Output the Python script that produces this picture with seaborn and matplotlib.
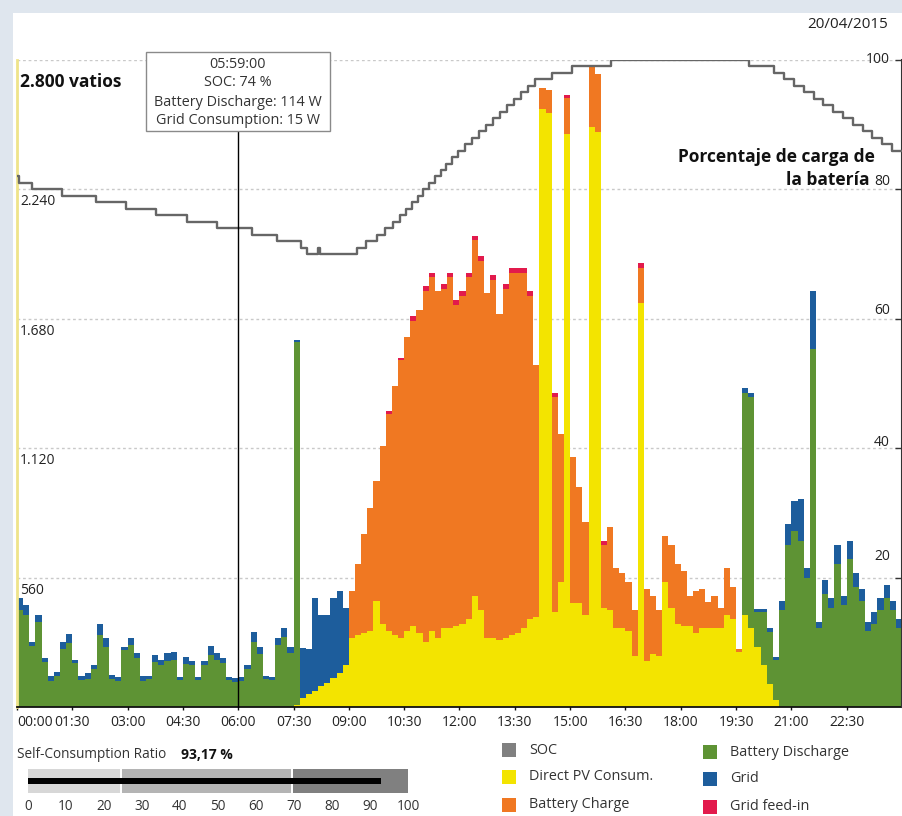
import numpy as np
import pandas as pd
import seaborn as sns
import matplotlib
matplotlib.use("Agg")
import matplotlib.pyplot as plt
import matplotlib.transforms as mtransforms
from matplotlib.patches import Rectangle

# ---- data: one value per 10-minute slot (00:00 ... 23:50), in W ----
direct_pv = [
    0, 0, 0, 0, 0, 0,            # 00h
    0, 0, 0, 0, 0, 0,            # 01h
    0, 0, 0, 0, 0, 0,            # 02h
    0, 0, 0, 0, 0, 0,            # 03h
    0, 0, 0, 0, 0, 0,            # 04h
    0, 0, 0, 0, 0, 0,            # 05h
    0, 0, 0, 0, 0, 0,            # 06h
    0, 0, 0, 10, 40, 55,         # 07h
    70, 90, 105, 125, 145, 180,  # 08h
    300, 310, 320, 330, 460, 360,
    330, 310, 300, 330, 350, 320,
    280, 330, 300, 340, 340, 350,
    360, 380, 480, 420, 300, 300,
    290, 300, 310, 320, 340, 380,
    390, 2590, 2570, 410, 540, 2480,
    450, 450, 400, 2510, 2490, 430,
    420, 340, 340, 330, 220, 1750,
    200, 230, 220, 540, 430, 360,
    350, 350, 320, 340, 340, 340,
    340, 400, 380, 240, 400, 340,  # 19h
    260, 180, 100, 30, 0, 0,       # 20h
    0, 0, 0, 0, 0, 0,
    0, 0, 0, 0, 0, 0,
    0, 0, 0, 0, 0, 0,
]

battery_charge = [
    0, 0, 0, 0, 0, 0,
    0, 0, 0, 0, 0, 0,
    0, 0, 0, 0, 0, 0,
    0, 0, 0, 0, 0, 0,
    0, 0, 0, 0, 0, 0,
    0, 0, 0, 0, 0, 0,
    0, 0, 0, 0, 0, 0,
    0, 0, 0, 0, 0, 0,
    0, 0, 0, 0, 0, 0,
    200, 310, 430, 530, 520, 770,        # 09h
    940, 1080, 1200, 1270, 1320, 1400,
    1520, 1530, 1500, 1470, 1520, 1390,
    1420, 1480, 1540, 1510, 1490, 1550,
    1410, 1510, 1570, 1560, 1540, 1400,
    1090, 90, 100, 930, 640, 155,
    630, 500, 400, 270, 250, 270,
    360, 260, 240, 210, 200, 150,
    310, 250, 200, 200, 270, 260,
    240, 130, 180, 170, 115, 140,
    90, 200, 140, 10, 0, 0,              # 19h
    0, 0, 0, 0, 0, 0,
    0, 0, 0, 0, 0, 0,
    0, 0, 0, 0, 0, 0,
    0, 0, 0, 0, 0, 0,
]

grid_feed_in = [
    0, 0, 0, 0, 0, 0,
    0, 0, 0, 0, 0, 0,
    0, 0, 0, 0, 0, 0,
    0, 0, 0, 0, 0, 0,
    0, 0, 0, 0, 0, 0,
    0, 0, 0, 0, 0, 0,
    0, 0, 0, 0, 0, 0,
    0, 0, 0, 0, 0, 0,
    0, 0, 0, 0, 0, 0,
    0, 0, 0, 0, 0, 0,
    10, 0, 10, 0, 20, 0,     # 10h
    20, 20, 0, 20, 20, 20,
    20, 20, 20, 20, 0, 20,
    0, 20, 20, 20, 20, 20,
    0, 0, 0, 20, 0, 15,
    0, 0, 0, 0, 0, 20,
    0, 0, 0, 0, 0, 20,
    0, 0, 0, 0, 0, 0,
    0, 0, 0, 0, 0, 0,
    0, 0, 0, 0, 0, 0,
    0, 0, 0, 0, 0, 0,
    0, 0, 0, 0, 0, 0,
    0, 0, 0, 0, 0, 0,
    0, 0, 0, 0, 0, 0,
]

battery_discharge = [
    420, 400, 265, 370, 195, 112,
    135, 250, 275, 190, 117, 120,
    165, 310, 260, 120, 113, 245,
    270, 210, 112, 120, 195, 180,
    200, 205, 115, 185, 180, 115,
    180, 225, 205, 190, 115, 110,
    114, 165, 280, 230, 120, 115,
    270, 305, 235, 1570, 0, 0,
    0, 0, 0, 0, 0, 0,
    0, 0, 0, 0, 0, 0,
    0, 0, 0, 0, 0, 0,
    0, 0, 0, 0, 0, 0,
    0, 0, 0, 0, 0, 0,
    0, 0, 0, 0, 0, 0,
    0, 0, 0, 0, 0, 0,
    0, 0, 0, 0, 0, 0,
    0, 0, 0, 0, 0, 0,
    0, 0, 0, 0, 0, 0,
    0, 0, 0, 0, 0, 0,
    0, 0, 0, 0, 960, 1000,
    150, 230, 225, 175, 420, 700,
    760, 720, 560, 1550, 340, 490,
    430, 620, 440, 640, 520, 460,
    330, 360, 420, 470, 420, 340,
]

grid = [
    50, 40, 15, 30, 15, 20,
    15, 30, 40, 15, 15, 25,
    15, 50, 40, 20, 15, 15,
    30, 25, 20, 15, 30, 25,
    35, 35, 15, 30, 20, 15,
    20, 40, 30, 20, 15, 15,
    15, 15, 45, 30, 15, 15,
    30, 35, 25, 10, 215, 195,
    400, 310, 295, 345, 355, 250,
    0, 0, 0, 0, 0, 0,
    0, 0, 0, 0, 0, 0,
    0, 0, 0, 0, 0, 0,
    0, 0, 0, 0, 0, 0,
    0, 0, 0, 0, 0, 0,
    0, 0, 0, 0, 0, 0,
    0, 0, 0, 0, 0, 0,
    0, 0, 0, 0, 0, 0,
    0, 0, 0, 0, 0, 0,
    0, 0, 0, 0, 0, 0,
    0, 0, 0, 0, 20, 20,
    15, 15, 15, 10, 40, 90,
    130, 180, 40, 250, 30, 60,
    40, 80, 40, 80, 60, 50,
    40, 50, 50, 60, 40, 40,
]

# battery state of charge (%), value holds from each time on
soc_hours = [0, 0.05, 0.40, 1.22, 2.15, 2.96, 3.76, 4.60, 5.43, 6.38,
             7.06, 7.69, 7.87, 8.17, 8.22, 9.23, 9.47, 9.75, 9.99, 10.20,
             10.40, 10.56, 10.71, 10.87, 11.02, 11.18, 11.33, 11.49, 11.64, 11.80,
             11.95, 12.14, 12.33, 12.52, 12.71, 12.90, 13.09, 13.28, 13.47, 13.66,
             13.85, 14.05, 14.52, 15.05, 16.10, 19.84, 20.54, 20.81, 21.08, 21.34,
             21.61, 21.87, 22.14, 22.40, 22.66, 22.93, 23.20, 23.47, 23.74, 24.0]
soc_values = [82, 81, 80, 79, 78, 77, 76, 75, 74, 73,
              72, 71, 70, 71, 70, 71, 72, 73, 74, 75,
              76, 77, 78, 79, 80, 81, 82, 83, 84, 85,
              86, 87, 88, 89, 90, 91, 92, 93, 94, 95,
              96, 97, 98, 99, 100, 99, 98, 97, 96, 95,
              94, 93, 92, 91, 90, 89, 88, 87, 86, 86]

tick_hours = [0, 1.5, 3, 4.5, 6, 7.5, 9, 10.5, 12, 13.5, 15, 16.5, 18, 19.5, 21, 22.5]
tick_labels = ["00:00", "01:30", "03:00", "04:30", "06:00", "07:30", "09:00", "10:30",
               "12:00", "13:30", "15:00", "16:30", "18:00", "19:30", "21:00", "22:30"]
watt_ticks = [560, 1120, 1680, 2240]
watt_labels = ["560", "1.120", "1.680", "2.240"]
soc_ticks = [100, 80, 60, 40, 20]

cursor_hour = 5.983
tooltip_lines = ["05:59:00", "SOC: 74 %", "Battery Discharge: 114 W", "Grid Consumption: 15 W"]

self_consumption = 93.17
gauge_bands = [(-0.3, 24.1), (24.8, 69.2), (69.8, 100.3)]

colors = {
    "Direct PV Consum.": "#f3e400",
    "Battery Discharge": "#5e9334",
    "Grid": "#1d5d9c",
    "Battery Charge": "#f07822",
    "Grid feed-in": "#e21a4c",
    "SOC": "#808080",
}

# ---- figure geometry in pixels ----
W, H = 903, 816


def fx(px):
    return px / W


def fy(py):
    return 1 - py / H


sns.set_theme(style="white")
plt.rcParams["font.family"] = ["Open Sans", "DejaVu Sans"]
TXT = "#222222"

fig = plt.figure(figsize=(W / 100, H / 100), dpi=100)
fig.patch.set_facecolor("#dfe6ee")
fig.patches.append(Rectangle((fx(13), 0), 1 - fx(13), fy(13), transform=fig.transFigure,
                             fc="white", ec="none", zorder=-10))

X0, X1, Y0, Y1 = 17, 902, 707, 60
ax = fig.add_axes([fx(X0), fy(Y0), fx(X1) - fx(X0), fy(Y1) - fy(Y0)])
ax.patch.set_alpha(0)

# stacked energy flows
slots = pd.DataFrame({
    "Direct PV Consum.": direct_pv,
    "Battery Discharge": battery_discharge,
    "Grid": grid,
    "Battery Charge": battery_charge,
    "Grid feed-in": grid_feed_in,
}, dtype=float)
slots.index = np.arange(len(slots)) / 6
tops = slots.cumsum(axis=1)
tops.loc[24.0] = tops.iloc[-1]
for name in reversed(list(tops.columns)):
    ax.fill_between(tops.index, 0, tops[name], step="post", color=colors[name],
                    lw=0, zorder=2)

ax.set_xlim(0, 24)
ax.set_ylim(0, 2800)
for v in watt_ticks + [2800]:
    ax.axhline(v, color="#c9c9c9", lw=1, ls=(0, (2, 2)), zorder=1)

ax.set_xticks(tick_hours)
ax.set_xticklabels(tick_labels, fontsize=10, color=TXT)
ax.get_xticklabels()[0].set_ha("left")
ax.tick_params(axis="x", bottom=True, length=4, width=1, direction="inout",
               color="#111111", pad=4)
ax.set_yticks([])
ax.spines["top"].set_visible(False)
ax.spines["right"].set_visible(False)
ax.spines["left"].set_color("#efe48a")
ax.spines["left"].set_linewidth(2)
ax.spines["bottom"].set_color("#111111")
ax.spines["bottom"].set_linewidth(1.3)

wtrans = mtransforms.blended_transform_factory(ax.transAxes, ax.transData)
for v, s in zip(watt_ticks, watt_labels):
    ax.annotate(s, xy=(0, v), xycoords=wtrans, xytext=(3, -5), textcoords="offset pixels",
                ha="left", va="top", fontsize=10, color=TXT)
ax.annotate("2.800 vatios", xy=(0, 2800), xycoords=wtrans, xytext=(3, -22),
            textcoords="offset pixels", ha="left", va="center", fontsize=12.5,
            fontweight="bold", color="#111111")

# state of charge on the right axis
ax2 = ax.twinx()
sns.lineplot(x=soc_hours, y=soc_values, ax=ax2, color="#666666", lw=1.7,
             drawstyle="steps-post", zorder=5)
ax2.set_xlim(0, 24)
ax2.set_ylim(0, 100)
ax2.set_ylabel("")
ax2.set_yticks(soc_ticks)
ax2.set_yticklabels([])
ax2.tick_params(axis="y", right=True, direction="in", length=5, width=1, color="#333333")
for side in ["top", "left", "bottom"]:
    ax2.spines[side].set_visible(False)
ax2.spines["right"].set_color("#333333")
ax2.spines["right"].set_linewidth(1.5)

strans = mtransforms.blended_transform_factory(ax2.transAxes, ax2.transData)
soc_label_shift = [1, 8, 8, 6, 21]
for v, off in zip(soc_ticks, soc_label_shift):
    ax2.annotate(str(v), xy=(1, v), xycoords=strans, xytext=(-12, off),
                 textcoords="offset pixels", ha="right", va="center", fontsize=10, color=TXT)

fig.text(fx(875), fy(157), "Porcentaje de carga de", ha="right", va="center",
         fontsize=12.5, fontweight="bold", color="#111111")
fig.text(fx(870), fy(180), "la batería", ha="right", va="center",
         fontsize=12.5, fontweight="bold", color="#111111")
fig.text(fx(888), fy(25), "20/04/2015", ha="right", va="center", fontsize=11, color=TXT)

# cursor and tooltip
cx = X0 + cursor_hour / 24 * (X1 - X0)
ctrans = mtransforms.blended_transform_factory(ax2.transData, ax2.transAxes)
ax2.plot([cursor_hour, cursor_hour], [0, (Y0 - 131) / (Y0 - Y1)], transform=ctrans,
         color="black", lw=1, zorder=6, clip_on=False)
box_w = 184
fig.patches.append(Rectangle((fx(cx - box_w / 2), fy(131)), box_w / W, (131 - 52) / H,
                             transform=fig.transFigure, fc="white", ec="#8a8a8a",
                             lw=1, zorder=10))
for i, line in enumerate(tooltip_lines):
    fig.text(fx(cx), fy(64 + 19 * i), line, ha="center", va="center",
             fontsize=10.4, color="#333333", zorder=11)

# self-consumption gauge
fig.text(fx(17), fy(755), "Self-Consumption Ratio", ha="left", va="center",
         fontsize=9.8, color="#333333")
fig.text(fx(181), fy(755), "93,17 %", ha="left", va="center",
         fontsize=10, fontweight="bold", color="#111111")
gax = fig.add_axes([fx(28), fy(793), fx(408) - fx(28), fy(769) - fy(793)])
gax.set_xlim(0, 100)
gax.set_ylim(0, 1)
for (lo, hi), col in zip(gauge_bands, ["#d7d7d7", "#b4b4b4", "#808080"]):
    gax.barh(0.5, hi - lo, left=lo, height=1, color=col, lw=0)
gax.barh(0.5, self_consumption, left=-0.3, height=0.27, color="black", lw=0)
gax.set_xticks(range(0, 101, 10))
gax.set_xticklabels([str(v) for v in range(0, 101, 10)], fontsize=9.8, color="#333333")
gax.tick_params(axis="x", length=0, pad=4)
gax.set_yticks([])
for s in gax.spines.values():
    s.set_visible(False)
gax.patch.set_alpha(0)

# legend
legend_items = [
    ("SOC", 502, 750), ("Direct PV Consum.", 502, 777), ("Battery Charge", 502, 805),
    ("Battery Discharge", 703, 752), ("Grid", 703, 779), ("Grid feed-in", 703, 807),
]
for name, lx, ly in legend_items:
    fig.patches.append(Rectangle((fx(lx), fy(ly + 7)), 14 / W, 14 / H,
                                 transform=fig.transFigure, fc=colors[name], ec="none"))
    fig.text(fx(lx + 27), fy(ly), name, ha="left", va="center", fontsize=10.4,
             color="#333333")

fig.savefig("out.png", dpi=100, facecolor=fig.get_facecolor())
